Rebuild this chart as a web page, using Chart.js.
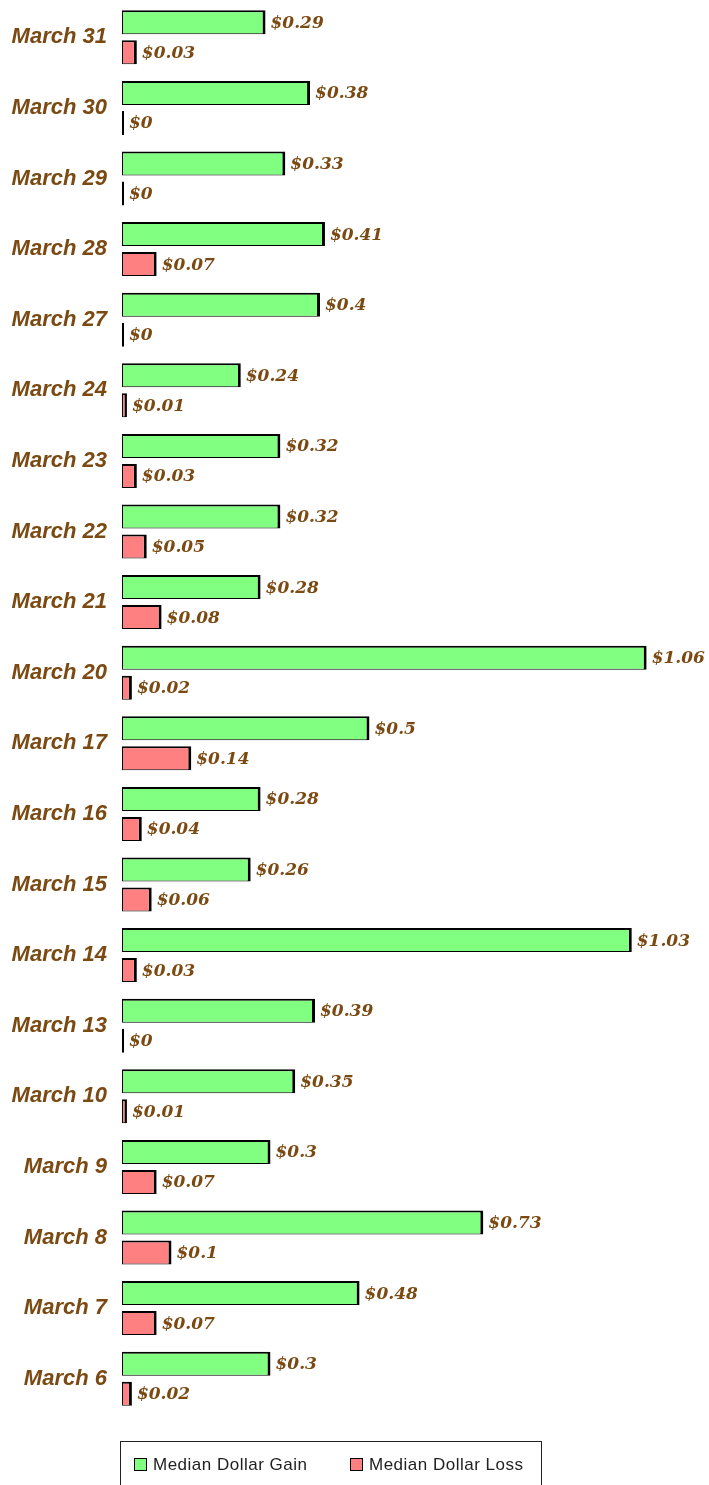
<!DOCTYPE html>
<html>
<head>
<meta charset="utf-8">
<script src="https://cdn.jsdelivr.net/npm/chart.js@4"></script>
<style>
  html, body { margin: 0; padding: 0; background: #fff; }
  #wrap { width: 709px; height: 1485px; position: relative; }
</style>
</head>
<body>
<div id="wrap"><canvas id="chart"></canvas></div>
<script>
const dates = [
  'March 31', 'March 30', 'March 29', 'March 28', 'March 27',
  'March 24', 'March 23', 'March 22', 'March 21', 'March 20',
  'March 17', 'March 16', 'March 15', 'March 14', 'March 13',
  'March 10', 'March 9', 'March 8', 'March 7', 'March 6',
];
const medianGain = [
  0.29, 0.38, 0.33, 0.41, 0.4,
  0.24, 0.32, 0.32, 0.28, 1.06,
  0.5, 0.28, 0.26, 1.03, 0.39,
  0.35, 0.3, 0.73, 0.48, 0.3,
];
const medianLoss = [
  0.03, 0, 0, 0.07, 0,
  0.01, 0.03, 0.05, 0.08, 0.02,
  0.14, 0.04, 0.06, 0.03, 0,
  0.01, 0.07, 0.1, 0.07, 0.02,
];
const seriesNames = ['Median Dollar Gain', 'Median Dollar Loss'];

const BROWN = '#7b4a12';

// value text at the end of every bar
const valueLabels = {
  id: 'valueLabels',
  afterDatasetsDraw(chart) {
    const { ctx } = chart;
    ctx.save();
    ctx.font = 'italic bold 17px "DejaVu Serif"';
    ctx.fillStyle = BROWN;
    ctx.textAlign = 'left';
    ctx.textBaseline = 'middle';
    chart.data.datasets.forEach((ds, i) => {
      chart.getDatasetMeta(i).data.forEach((bar, j) => {
        ctx.fillText('$' + ds.data[j], bar.x + 5, bar.y + 1);
      });
    });
    ctx.restore();
  },
};

// boxed legend under the plot
const boxedLegend = {
  id: 'boxedLegend',
  afterDraw(chart) {
    const { ctx } = chart;
    const left = 120, top = 1441, right = 541;
    ctx.save();
    ctx.strokeStyle = '#222';
    ctx.lineWidth = 1;
    ctx.strokeRect(left + 0.5, top + 0.5, right - left, 60);
    ctx.font = '17px "Liberation Sans"';
    ctx.letterSpacing = '0.5px';
    ctx.textBaseline = 'middle';
    const xs = [134, 350];
    chart.data.datasets.forEach((ds, i) => {
      ctx.fillStyle = ds.backgroundColor;
      ctx.fillRect(xs[i], 1458, 12, 12);
      ctx.strokeStyle = '#000';
      ctx.strokeRect(xs[i] + 0.5, 1458.5, 12, 12);
      ctx.fillStyle = '#222';
      ctx.fillText(ds.label, xs[i] + 19, 1465);
    });
    ctx.restore();
  },
};

new Chart(document.getElementById('chart'), {
  type: 'bar',
  data: {
    labels: dates,
    datasets: [
      {
        label: seriesNames[0],
        data: medianGain,
        backgroundColor: '#80ff80',
        borderColor: '#000',
        borderWidth: { top: 2, right: 3, bottom: 1, left: 1 },
        borderSkipped: false,
        categoryPercentage: 0.85,
        barPercentage: 0.8,
      },
      {
        label: seriesNames[1],
        data: medianLoss,
        backgroundColor: '#ff8080',
        borderColor: '#000',
        borderWidth: { top: 2, right: 3, bottom: 1, left: 1 },
        borderSkipped: false,
        minBarLength: 2,
        categoryPercentage: 0.85,
        barPercentage: 0.8,
      },
    ],
  },
  options: {
    indexAxis: 'y',
    responsive: true,
    maintainAspectRatio: false,
    animation: false,
    layout: { padding: { top: 2, bottom: 71, left: 0, right: 0 } },
    plugins: {
      legend: { display: false },
      tooltip: { enabled: false },
    },
    scales: {
      x: {
        display: false,
        min: 0,
        max: 1.186,
      },
      y: {
        afterFit(scale) {
          scale.width = 122;
          scale.paddingTop = 0;
          scale.paddingBottom = 0;
        },
        grid: { display: false, drawTicks: false },
        border: { display: false },
        ticks: {
          color: BROWN,
          padding: 15,
          font: { family: '"Liberation Sans"', size: 22, style: 'italic', weight: 'bold' },
        },
      },
    },
  },
  plugins: [valueLabels, boxedLegend],
});
</script>
</body>
</html>
